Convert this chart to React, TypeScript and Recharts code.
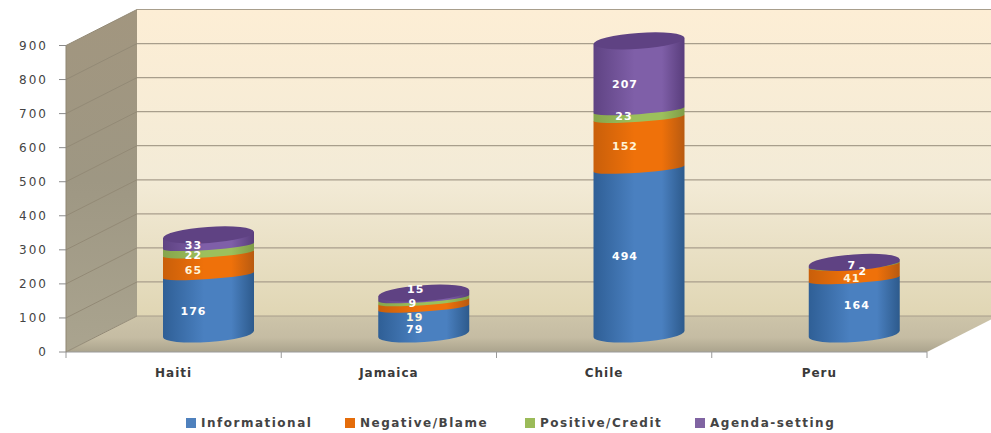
import React from 'react';
import { BarChart, Bar, XAxis, YAxis, CartesianGrid, Legend, LabelList } from 'recharts';

const categories = ['Haiti', 'Jamaica', 'Chile', 'Peru'];
const informational = [176, 79, 494, 164];
const negativeBlame = [65, 19, 152, 41];
const positiveCredit = [22, 9, 23, 2];
const agendaSetting = [33, 15, 207, 7];
const valueTicks = [0, 100, 200, 300, 400, 500, 600, 700, 800, 900];

const rows = categories.map((name, i) => ({
  name,
  Informational: informational[i],
  'Negative/Blame': negativeBlame[i],
  'Positive/Credit': positiveCredit[i],
  'Agenda-setting': agendaSetting[i],
}));

const W = 991;
const H = 433;
const LEFT = 66;
const RIGHT = 927;
const TOP = 45.5;
const BOTTOM = 352;
const DEPTH_X = 71;
const DEPTH_Y = 36;
const BAND = (RIGHT - LEFT) / categories.length;

// Cylinders stand midway through the floor: shifted half the depth and slightly foreshortened.
const CYL_DX = 35;
const CYL_DY = -18;
const CYL_SCALE = 0.9826;
const RY_OUTER = 8;
const RY_INNER = 4;
const TILT = 4;

const foreshorten = (py: number) => BOTTOM - (BOTTOM - py) * CYL_SCALE;

const seriesStyle = [
  { key: 'Informational', grad: 'cylBlue', swatch: '#4f81bd', label: '#ffffff' },
  { key: 'Negative/Blame', grad: 'cylOrange', swatch: '#e46c0a', label: '#fff4d8' },
  { key: 'Positive/Credit', grad: 'cylGreen', swatch: '#9bbb59', label: '#ffffff' },
  { key: 'Agenda-setting', grad: 'cylPurple', swatch: '#8064a2', label: '#ffffff' },
];

// Hand-placed data label offsets from each segment's middle: [dx, dy].
const labelOffsets: Record<string, number[][]> = {
  Haiti: [[20, -10.6], [20, -11.5], [20, -11.7], [20, -12.5]],
  Jamaica: [[26, -9.5], [26, -4.7], [24, -14.4], [27, -23.7]],
  Chile: [[21, -12.4], [21, -14.6], [20, -15.3], [21, -9]],
  Peru: [[37.6, -18.6], [32.6, -12], [43.6, -11.3], [32.6, -16]],
};

const Cylinder = (props: any) => {
  const { x, y, width, height, grad, isTop, isBase } = props;
  if (width == null || height == null) return null;
  const rx = width / 2;
  const slope = rx * Math.sin((TILT * Math.PI) / 180);
  const xl = x + CYL_DX;
  const xr = xl + width;
  const top = foreshorten(y) + CYL_DY;
  const bot = foreshorten(y + height) + CYL_DY;
  const ry = isBase ? RY_OUTER : RY_INNER;
  const body = [
    `M${xl},${top + slope}`,
    `L${xl},${bot + slope}`,
    `A${rx},${ry} ${-TILT} 0 0 ${xr},${bot - slope}`,
    `L${xr},${top - slope}`,
    'Z',
  ].join(' ');
  return (
    <g>
      <path d={body} fill={`url(#${grad})`} />
      {isTop && (
        <ellipse
          cx={xl + rx}
          cy={top}
          rx={rx}
          ry={RY_OUTER}
          fill="#5f4283"
          transform={`rotate(${-TILT} ${xl + rx} ${top})`}
        />
      )}
    </g>
  );
};

const SegmentLabel = (props: any) => {
  const { x, y, width, height, value, index, seriesIndex, color } = props;
  const [dx, dy] = labelOffsets[categories[index]][seriesIndex];
  return (
    <text
      x={x + width / 2 + dx}
      y={foreshorten(y + height / 2) + dy}
      textAnchor="middle"
      dominantBaseline="central"
      fill={color}
      fontFamily="DejaVu Sans"
      fontWeight="bold"
      fontSize={11}
      letterSpacing={1}
    >
      {value}
    </text>
  );
};

// One grid value: a diagonal across the side wall, then a run along the back wall.
const WallLine = (props: any) => {
  const { y1 } = props;
  const by = y1 - DEPTH_Y;
  return (
    <g>
      <line x1={LEFT} y1={y1} x2={LEFT + DEPTH_X} y2={by} stroke="#938a76" strokeWidth={1} />
      <line x1={LEFT + DEPTH_X} y1={by} x2={W} y2={by} stroke="#a89e8c" strokeWidth={1.2} />
    </g>
  );
};

const CategoryTick = (props: any) => {
  const { x, y, payload, index } = props;
  const tick = (tx: number, k: string) => (
    <line key={k} x1={tx} y1={BOTTOM} x2={tx} y2={BOTTOM + 6} stroke="#9a9a9a" />
  );
  return (
    <g>
      {tick(x - BAND / 2, 'l')}
      {index === categories.length - 1 && tick(x + BAND / 2, 'r')}
      <text
        x={x}
        y={y + 17}
        textAnchor="middle"
        fill="#3a3a3a"
        fontFamily="DejaVu Sans"
        fontWeight="bold"
        fontSize={12}
        letterSpacing={1}
      >
        {payload.value}
      </text>
    </g>
  );
};

const legendX = [186, 345, 525, 695];

const ChartLegend = (props: any) => (
  <div style={{ position: 'relative', width: W, height: 20 }}>
    {(props.payload ?? []).map((item: any, i: number) => (
      <div
        key={item.value}
        style={{ position: 'absolute', left: legendX[i], top: 3, display: 'flex', alignItems: 'center' }}
      >
        <span style={{ width: 10, height: 10, background: seriesStyle[i].swatch, marginRight: 5 }} />
        <span
          style={{
            fontFamily: 'DejaVu Sans',
            fontWeight: 'bold',
            fontSize: 12,
            letterSpacing: 1.5,
            color: '#444444',
            lineHeight: '14px',
          }}
        >
          {item.value}
        </span>
      </div>
    ))}
  </div>
);

const Walls = () => {
  const backL = LEFT + DEPTH_X;
  const backTop = TOP - DEPTH_Y;
  const backBottom = BOTTOM - DEPTH_Y;
  return (
    <svg width={W} height={H} style={{ position: 'absolute', left: 0, top: 0 }}>
      <defs>
        <linearGradient id="backWall" x1="0" y1="0" x2="0" y2="1">
          <stop offset="0" stopColor="#fdeed5" />
          <stop offset="0.55" stopColor="#f3ebd7" />
          <stop offset="1" stopColor="#e0d6b4" />
        </linearGradient>
        <linearGradient id="sideWall" x1="0" y1="0" x2="0" y2="1">
          <stop offset="0" stopColor="#a2967f" />
          <stop offset="0.5" stopColor="#9e9783" />
          <stop offset="1" stopColor="#aaa48f" />
        </linearGradient>
        <linearGradient id="floor" x1="0" y1="0" x2="0" y2="1">
          <stop offset="0" stopColor="#cdc4a9" />
          <stop offset="0.6" stopColor="#c5bca3" />
          <stop offset="1" stopColor="#aba48d" />
        </linearGradient>
      </defs>
      <rect x={backL} y={backTop} width={W - backL} height={backBottom - backTop} fill="url(#backWall)" />
      <polygon
        points={`${LEFT},${TOP} ${backL},${backTop} ${backL},${backBottom} ${LEFT},${BOTTOM}`}
        fill="url(#sideWall)"
      />
      <polygon
        points={`${LEFT},${BOTTOM} ${RIGHT},${BOTTOM} ${RIGHT + DEPTH_X},${backBottom} ${backL},${backBottom}`}
        fill="url(#floor)"
      />
    </svg>
  );
};

const cylinderStop = (id: string, edgeL: string, mid: string, edgeR: string) => (
  <linearGradient id={id} x1="0" y1="0" x2="1" y2="0">
    <stop offset="0" stopColor={edgeL} />
    <stop offset="0.45" stopColor={mid} />
    <stop offset="0.75" stopColor={mid} />
    <stop offset="1" stopColor={edgeR} />
  </linearGradient>
);

export default function App() {
  return (
    <div style={{ position: 'absolute', left: 0, top: 0, width: W, height: H, background: '#ffffff', overflow: 'hidden' }}>
      <Walls />
      <div style={{ position: 'absolute', left: 0, top: 0 }}>
        <BarChart
          width={W}
          height={H}
          data={rows}
          barCategoryGap={0}
          barSize={91}
          margin={{ top: TOP, right: W - RIGHT, bottom: 31, left: 0 }}
        >
          <defs>
            {cylinderStop('cylBlue', '#2f5f96', '#4a80c0', '#2d5a8c')}
            {cylinderStop('cylOrange', '#c95f0a', '#ef710a', '#b85a10')}
            {cylinderStop('cylGreen', '#86a54c', '#9cc05c', '#7f9c48')}
            {cylinderStop('cylPurple', '#5f4383', '#7f5fa8', '#593d7c')}
          </defs>
          <CartesianGrid vertical={false} horizontal={(p: any) => <WallLine key={p.key} {...p} />} />
          <XAxis
            dataKey="name"
            interval={0}
            tickLine={false}
            axisLine={{ stroke: '#9a9a9a' }}
            height={30}
            tick={<CategoryTick />}
          />
          <YAxis
            width={LEFT}
            domain={[0, 900]}
            ticks={valueTicks}
            interval={0}
            tickSize={7}
            tickMargin={11}
            axisLine={{ stroke: '#8f8672' }}
            tickLine={{ stroke: '#8a8a8a' }}
            tick={{ fill: '#444444', fontSize: 12, fontFamily: 'DejaVu Sans', letterSpacing: 2 }}
          />
          <Legend
            verticalAlign="bottom"
            itemSorter={null}
            content={<ChartLegend />}
            height={20}
            wrapperStyle={{ bottom: 0, left: 0 }}
          />
          {seriesStyle.map((s, si) => (
            <Bar
              key={s.key}
              dataKey={s.key}
              stackId="coverage"
              fill={s.swatch}
              isAnimationActive={false}
              shape={(p: any) => (
                <Cylinder {...p} grad={s.grad} isBase={si === 0} isTop={si === seriesStyle.length - 1} />
              )}
            >
              <LabelList
                dataKey={s.key}
                content={(p: any) => <SegmentLabel {...p} seriesIndex={si} color={s.label} />}
              />
            </Bar>
          ))}
        </BarChart>
      </div>
    </div>
  );
}
